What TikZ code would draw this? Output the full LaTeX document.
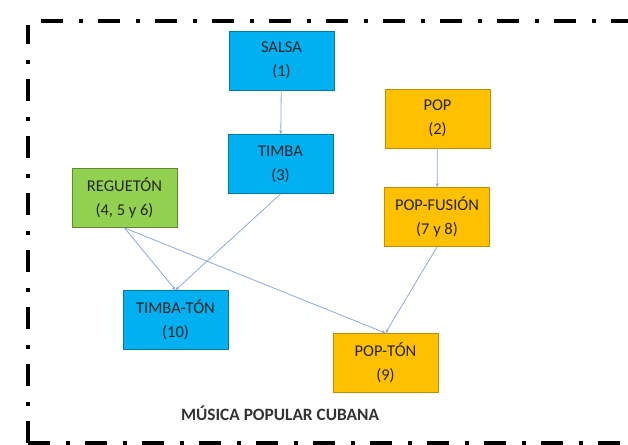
\documentclass[tikz,border=0pt]{standalone}
\usepackage{fontspec}
\setmainfont{Carlito}
\usetikzlibrary{arrows.meta}
\definecolor{cblue}{HTML}{00B0F0}
\definecolor{corange}{HTML}{FFC000}
\definecolor{cgreen}{HTML}{92D050}
\definecolor{cline}{HTML}{8FAADC}
\definecolor{ctext}{HTML}{262626}
\definecolor{ctitle}{HTML}{333333}
\tikzset{
  genre/.style={rectangle, minimum width=105pt, minimum height=59pt, inner sep=0pt,
    align=center, line width=0.9pt, text=ctext, font=\fontsize{16.5}{24}\selectfont},
  bluebox/.style={genre, fill=cblue, draw=cblue!70!black},
  orangebox/.style={genre, fill=corange, draw=corange!75!black},
  greenbox/.style={genre, fill=cgreen, draw=cgreen!65!black},
  link/.style={draw=cline, line width=0.8pt, -{Stealth[length=4pt,width=3.5pt]}},
  frameline/.style={line width=4pt, black, dash pattern=on 22pt off 16pt on 4pt off 15pt}
}
\begin{document}
\begin{tikzpicture}[x=1pt,y=-1pt]
\useasboundingbox (0,0) rectangle (628,444);
\fill[white] (0,0) rectangle (628,444);
% frame
\draw[frameline, dash phase=-2pt] (39,21) -- (640,21);
\draw[frameline, dash phase=3pt] (28,25) -- (28,444);
\draw[frameline, line width=5pt] (28,443) -- (640,443);
% nodes
\node[bluebox] (salsa) at (281.5,60.5) {SALSA\\(1)};
\node[bluebox] (timba) at (280.5,164) {TIMBA\\(3)};
\node[orangebox] (pop) at (437.5,118.5) {POP\\(2)};
\node[orangebox] (popfusion) at (437,217) {POP-FUSIÓN\\(7 y 8)};
\node[greenbox] (regueton) at (124.5,198) {REGUETÓN\\(4, 5 y 6)};
\node[bluebox] (timbaton) at (175.5,320) {TIMBA-TÓN\\(10)};
\node[orangebox] (popton) at (385.5,363) {POP-TÓN\\(9)};
\node[font=\fontsize{17.3}{19}\selectfont\bfseries, text=ctitle] (title) at (280,413) {MÚSICA POPULAR CUBANA};
% connectors
\draw[link] (salsa) -- (timba);
\draw[link] (pop) -- (popfusion);
\draw[link] (timba.south) -- (timbaton.north);
\draw[link] (regueton.south) -- (timbaton.north);
\draw[link] (regueton.south) -- (popton.north);
\draw[link] (popfusion.south) -- (popton.north);
\end{tikzpicture}
\end{document}
